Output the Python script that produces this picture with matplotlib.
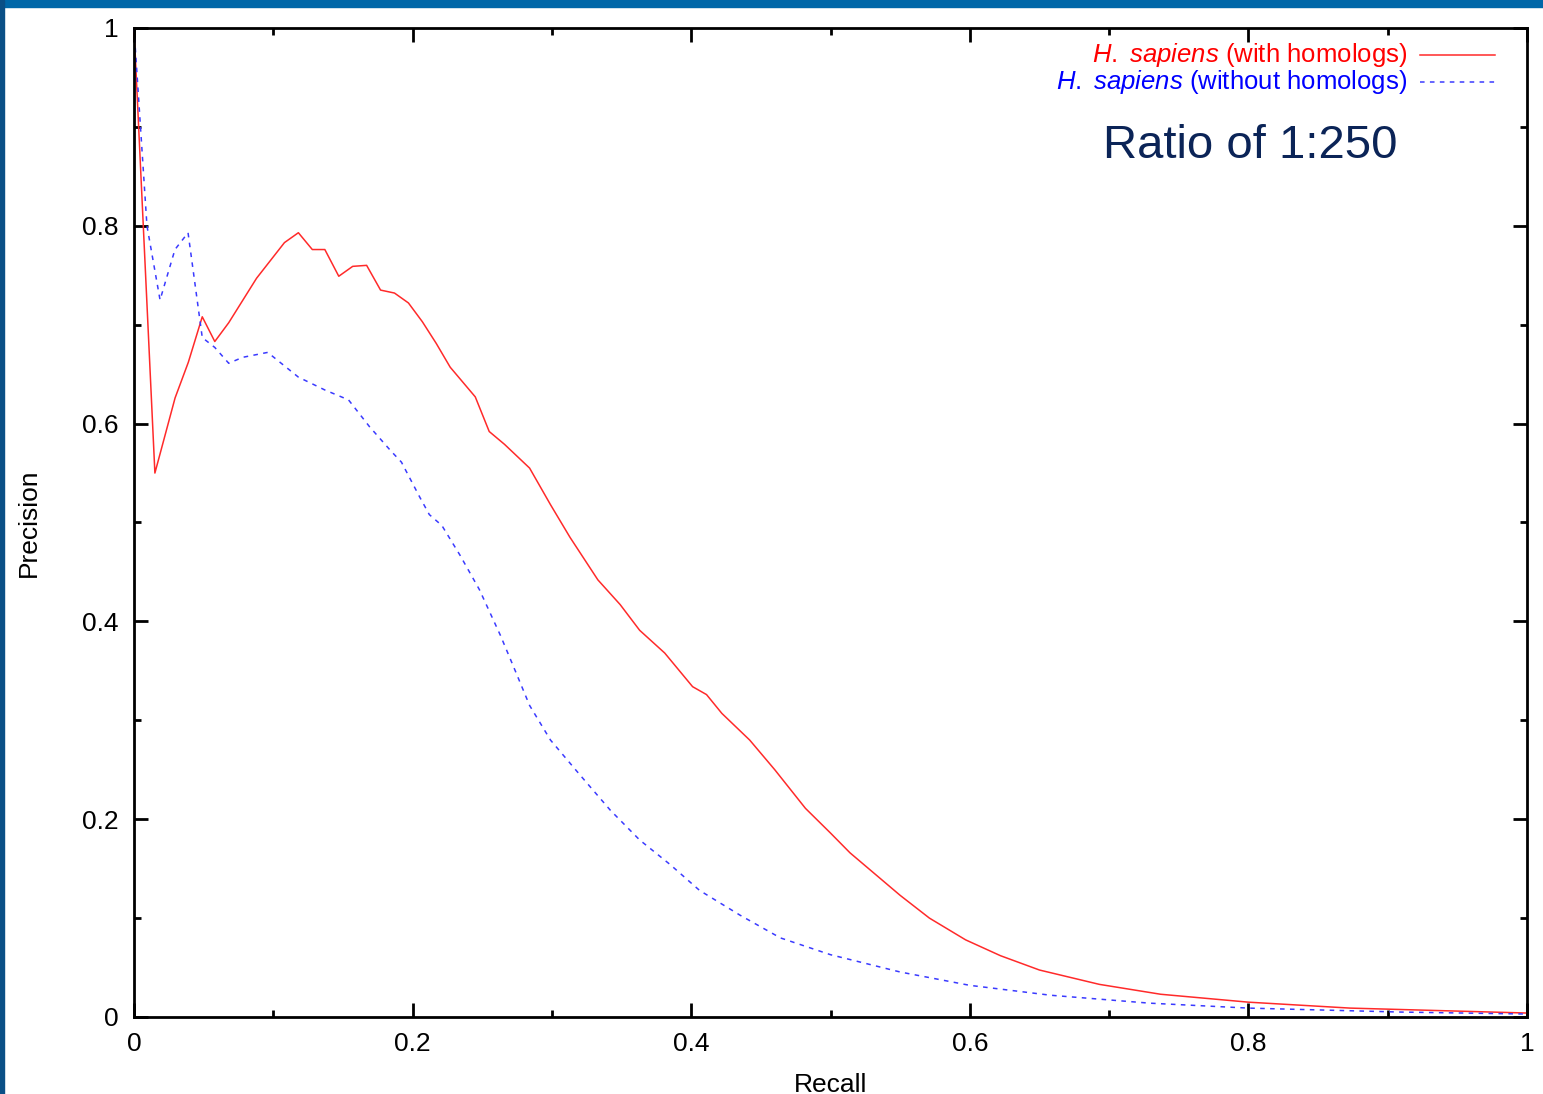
import matplotlib
matplotlib.use("Agg")
import matplotlib.pyplot as plt
from matplotlib.patches import Rectangle
from matplotlib.ticker import MultipleLocator, FormatStrFormatter

plt.rcParams["font.family"] = ["Liberation Sans", "DejaVu Sans"]
plt.rcParams["mathtext.fontset"] = "custom"
plt.rcParams["mathtext.it"] = "Liberation Sans:italic"
plt.rcParams["mathtext.rm"] = "Liberation Sans"

# recall / precision
recall_with = [0.0, 0.015, 0.0295, 0.039, 0.049, 0.058, 0.068, 0.088, 0.108, 0.118,
               0.128, 0.137, 0.147, 0.157, 0.167, 0.177, 0.187, 0.197, 0.207, 0.217,
               0.227, 0.236, 0.245, 0.255, 0.266, 0.284, 0.299, 0.313, 0.333, 0.349,
               0.363, 0.381, 0.401, 0.411, 0.422, 0.442, 0.46, 0.482, 0.5, 0.514,
               0.55, 0.571, 0.597, 0.622, 0.65, 0.693, 0.737, 0.8, 0.873, 1.0]
precision_with = [1.0, 0.55, 0.626, 0.662, 0.708, 0.683, 0.702, 0.747, 0.783, 0.793,
                  0.776, 0.776, 0.749, 0.759, 0.760, 0.735, 0.732, 0.722, 0.703, 0.681,
                  0.657, 0.642, 0.627, 0.592, 0.579, 0.555, 0.518, 0.485, 0.442, 0.417,
                  0.391, 0.368, 0.334, 0.326, 0.307, 0.280, 0.25, 0.211, 0.186, 0.166,
                  0.123, 0.100, 0.078, 0.062, 0.0475, 0.033, 0.023, 0.015, 0.009, 0.004]

recall_without = [0.0, 0.0093, 0.0187, 0.0294, 0.0388, 0.049, 0.058, 0.068, 0.078, 0.096,
                  0.118, 0.137, 0.154, 0.169, 0.184, 0.192, 0.205, 0.212, 0.221, 0.234,
                  0.248, 0.263, 0.274, 0.284, 0.299, 0.320, 0.342, 0.363, 0.385, 0.406,
                  0.435, 0.464, 0.5, 0.55, 0.6, 0.658, 0.729, 0.8, 0.909, 1.0]
precision_without = [1.0, 0.80, 0.725, 0.776, 0.793, 0.687, 0.677, 0.661, 0.667, 0.672,
                     0.647, 0.634, 0.624, 0.597, 0.573, 0.561, 0.526, 0.508, 0.497, 0.467,
                     0.432, 0.386, 0.349, 0.315, 0.280, 0.245, 0.209, 0.179, 0.154, 0.128,
                     0.103, 0.080, 0.063, 0.0455, 0.032, 0.022, 0.014, 0.009, 0.005, 0.003]

W, H = 1543, 1094
fig = plt.figure(figsize=(W / 100, H / 100), dpi=100, facecolor="white")

# slide frame
fig.patches.append(Rectangle((0, 1 - 7 / H), 1, 7 / H, transform=fig.transFigure,
                             color="#0067a8", zorder=0))
fig.patches.append(Rectangle((0, 0), 4 / W, 1, transform=fig.transFigure,
                             color="#0a4f86", zorder=0))

ax = fig.add_axes([134 / W, 1 - 1017 / H, (1527 - 134) / W, (1017 - 28) / H])

ax.plot(recall_with, precision_with, color="#ff2a2a", lw=1.1, clip_on=False)
ax.plot(recall_without, precision_without, color="#3a3aff", lw=1.1,
        dashes=(3, 3.5), clip_on=False)

ax.set_xlim(0, 1)
ax.set_ylim(0, 1)
for a in (ax.xaxis, ax.yaxis):
    a.set_major_locator(MultipleLocator(0.2))
    a.set_minor_locator(MultipleLocator(0.1))
    a.set_major_formatter(FormatStrFormatter("%g"))
ax.tick_params(which="both", direction="in", top=True, right=True, width=2,
               labelsize=19, pad=11)
ax.tick_params(which="major", length=10)
ax.tick_params(which="minor", length=5)
for s in ax.spines.values():
    s.set_linewidth(2)

ax.set_xlabel("Recall", fontsize=19, labelpad=12)
ax.set_ylabel("Precision", fontsize=19, labelpad=30)

# gnuplot-style key
key_y = [0.9725, 0.9455]
ax.text(0.914, key_y[0], r"$\mathit{H.}$ $\mathit{sapiens}$ (with homologs)",
        color="red", fontsize=18.5, ha="right", va="center", transform=ax.transAxes)
ax.text(0.914, key_y[1], r"$\mathit{H.}$ $\mathit{sapiens}$ (without homologs)",
        color="blue", fontsize=18.5, ha="right", va="center", transform=ax.transAxes)
ax.plot([0.923, 0.977], [key_y[0]] * 2, color="#ff2a2a", lw=1.1,
        transform=ax.transAxes)
ax.plot([0.923, 0.977], [key_y[1]] * 2, color="#3a3aff", lw=1.1,
        dashes=(3, 3.5), transform=ax.transAxes)

ax.text(0.801, 0.881, "Ratio of 1:250", color="#0b2457", fontsize=34,
        ha="center", va="center", transform=ax.transAxes)

fig.savefig("out.png", dpi=100, facecolor=fig.get_facecolor())
